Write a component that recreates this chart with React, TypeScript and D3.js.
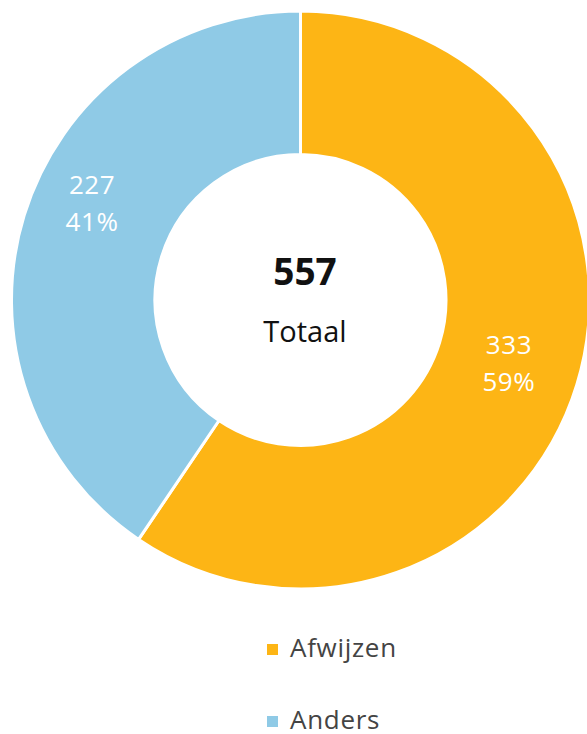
import React from "react";
import * as d3 from "d3";

const categories = ["Afwijzen", "Anders"];
const values = [333, 227];
const percentLabels = ["59%", "41%"];
const colors = ["#FDB515", "#8FCAE6"];
const totalLabel = "557";
const totalText = "Totaal";

const W = 587;
const H = 734;
const cx = 300.5;
const cy = 300;
const outerR = 289;
const innerR = 145.5;
const labelR = 218;
const lineH = 37;
const FONT = "'Open Sans', 'Noto Sans', sans-serif";

export default function App() {
  const pie = d3.pie<number>().sort(null).value((d) => d)(values);
  const arc = d3.arc<d3.PieArcDatum<number>>().innerRadius(innerR).outerRadius(outerR);
  const labelArc = d3.arc<d3.PieArcDatum<number>>().innerRadius(labelR).outerRadius(labelR);

  return (
    <svg width={W} height={H} style={{ position: "absolute", left: 0, top: 0, background: "#fff" }}>
      <g transform={`translate(${cx},${cy})`}>
        {pie.map((p, i) => (
          <path key={categories[i]} d={arc(p) || ""} fill={colors[i]} stroke="#fff" strokeWidth={3} strokeLinejoin="round" />
        ))}
        {pie.map((p, i) => {
          const [x, y] = labelArc.centroid(p);
          const first = y + (y < 0 ? -10 - 32 : -10);
          return (
            <text key={"l" + i} textAnchor="middle" fill="#fff" fontFamily={FONT} fontSize={26} letterSpacing={0.6}>
              <tspan x={x} y={first}>{values[i]}</tspan>
              <tspan x={x} y={first + lineH}>{percentLabels[i]}</tspan>
            </text>
          );
        })}
        <text x={4.5} y={-15} textAnchor="middle" fontFamily={FONT} fontWeight={700} fontSize={37} fill="#111">
          {totalLabel}
        </text>
        <text x={4.5} y={42} textAnchor="middle" fontFamily={FONT} fontSize={29} fill="#111">
          {totalText}
        </text>
      </g>
      {categories.map((c, i) => (
        <g key={"lg" + c} transform={`translate(267, ${650 + i * 72})`}>
          <rect x={0} y={-6} width={11} height={11} fill={colors[i]} />
          <text x={23} y={7} fontFamily={FONT} fontSize={26} letterSpacing={0.7} fill="#444">
            {c}
          </text>
        </g>
      ))}
    </svg>
  );
}
